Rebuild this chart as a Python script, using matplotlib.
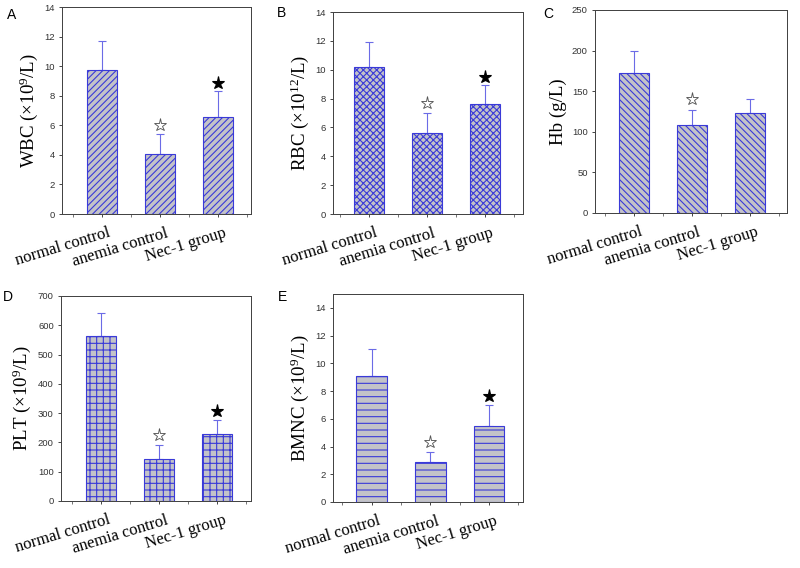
import matplotlib
matplotlib.use("Agg")
import matplotlib.pyplot as plt
import matplotlib.transforms as mtransforms

plt.rcParams['mathtext.fontset'] = 'custom'
plt.rcParams['mathtext.rm'] = 'Liberation Serif'
plt.rcParams['mathtext.it'] = 'Liberation Serif'
plt.rcParams['hatch.linewidth'] = 1.0

groups = ["normal control", "anemia control", "Nec-1 group"]

# panel data: means, upper error bar tops, star marks
wbc_mean = [9.75, 4.05, 6.55]
wbc_top = [11.72, 5.4, 8.3]
rbc_mean = [10.22, 5.63, 7.6]
rbc_top = [11.95, 7.03, 8.93]
hb_mean = [173, 108, 123]
hb_top = [199, 127, 140]
plt_mean = [562, 144, 227]
plt_top = [643, 190, 277]
bmnc_mean = [9.08, 2.92, 5.47]
bmnc_top = [11.03, 3.62, 7.0]

# (group index, y, filled?)
wbc_stars = [(1, 6.0, False), (2, 8.85, True)]
rbc_stars = [(1, 7.68, False), (2, 9.53, True)]
hb_stars = [(1, 140, False)]
plt_stars = [(1, 225, False), (2, 307, True)]
bmnc_stars = [(1, 4.3, False), (2, 7.68, True)]

fig = plt.figure(figsize=(10, 7.1), dpi=80)

edge = '#3a3ad8'
errc = '#6b6be6'
fill = '#c3c3c8'
tickc = '#333333'

panels = [
    # letter, rect, mean, top, stars, ylim, yticks, ylabel, hatch, xlim, letter pos
    ('A', [0.0775, 0.6232, 0.236, 0.3644], wbc_mean, wbc_top, wbc_stars,
     (0, 14), range(0, 15, 2), r'WBC (×10$^{9}$/L)', '////', (-0.69, 2.57), (0.009, 0.974)),
    ('B', [0.41625, 0.6232, 0.2375, 0.3556], rbc_mean, rbc_top, rbc_stars,
     (0, 14), range(0, 15, 2), r'RBC (×10$^{12}$/L)', 'xxxx', (-0.62, 2.66), (0.346, 0.977)),
    ('C', [0.74375, 0.625, 0.24, 0.3574], hb_mean, hb_top, hb_stars,
     (0, 250), range(0, 251, 50), 'Hb (g/L)', '\\\\\\\\', (-0.67, 2.64), (0.679, 0.975)),
    ('D', [0.07625, 0.118, 0.2375, 0.361], plt_mean, plt_top, plt_stars,
     (0, 700), range(0, 701, 100), r'PLT (×10$^{9}$/L)', '++', (-0.69, 2.58), (0.004, 0.477)),
    ('E', [0.41625, 0.1162, 0.2375, 0.366], bmnc_mean, bmnc_top, bmnc_stars,
     (0, 15), range(0, 15, 2), r'BMNC (×10$^{9}$/L)', '--', (-0.66, 2.58), (0.3475, 0.477)),
]

x = [0, 1, 2]
for letter, rect, mean, top, stars, ylim, yticks, ylabel, hatch, xlim, lpos in panels:
    ax = fig.add_axes(rect)
    ax.bar(x, mean, width=0.52, color=fill, edgecolor=edge, hatch=hatch,
           linewidth=1.0, zorder=2)
    err = [t - m for t, m in zip(top, mean)]
    ax.errorbar(x, mean, yerr=[[0, 0, 0], err], fmt='none', ecolor=errc,
                elinewidth=1.0, capsize=3.2, capthick=1.0, zorder=1)
    for i, y, filled in stars:
        if filled:
            ax.plot(i, y, marker='*', ms=12, color='black', mec='black', zorder=3)
        else:
            ax.plot(i, y, marker='*', ms=12, mfc='white', mec='#555555',
                    mew=0.8, zorder=3)
    ax.set_xlim(*xlim)
    ax.set_ylim(*ylim)
    ax.set_yticks(list(yticks))
    ax.set_xticks(x)
    ax.set_xticks([-0.5, 0.5, 1.5, 2.5], minor=True)
    ax.tick_params(axis='x', which='both', direction='out', length=3, color=tickc)
    ax.tick_params(axis='y', direction='out', length=3, color=tickc,
                   labelsize=8.5, labelcolor=tickc)
    for lab in ax.get_yticklabels():
        lab.set_fontfamily('Liberation Sans')
    ax.set_xticklabels(groups, rotation=17, ha='right', va='top',
                       rotation_mode='anchor', fontfamily='Liberation Serif',
                       fontsize=15)
    offset = mtransforms.ScaledTranslation(6 / 80, -4 / 80, fig.dpi_scale_trans)
    for lab in ax.get_xticklabels():
        lab.set_transform(lab.get_transform() + offset)
    for sp in ax.spines.values():
        sp.set_color('#444444')
        sp.set_linewidth(0.9)
    ax.set_ylabel(ylabel, fontfamily='Liberation Serif', fontsize=17, labelpad=4)
    fig.text(lpos[0], lpos[1], letter, fontfamily='Liberation Sans', fontsize=12.5,
             va='center', ha='left')

fig.savefig('out.png', dpi=80)
